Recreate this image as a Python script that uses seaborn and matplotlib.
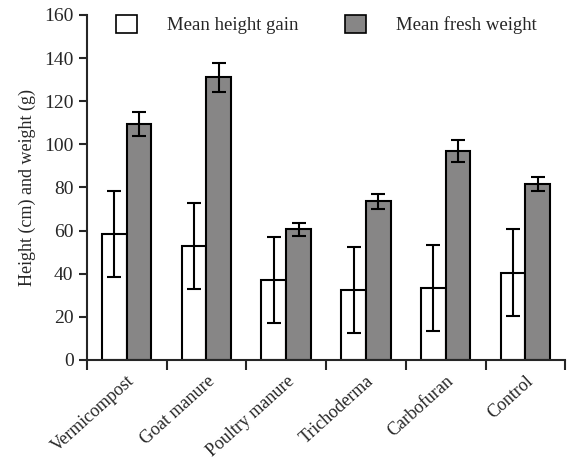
import numpy as np
import pandas as pd
import seaborn as sns
import matplotlib.pyplot as plt
from matplotlib.patches import Patch

# valores
tratamentos = ['Vermicompost', 'Goat manure', 'Poultry manure', 'Trichoderma', 'Carbofuran', 'Control']
altura = [58.5, 53, 37, 32.5, 33.5, 40.5]
altura_err = [20, 20, 20, 20, 20, 20]
peso = [109.5, 131, 60.5, 73.5, 97, 81.5]
peso_err = [5.5, 6.5, 3, 3.5, 5, 3.3]
series = ['Mean height gain', 'Mean fresh weight']

df = pd.DataFrame({
    'tratamento': tratamentos * 2,
    'serie': [series[0]] * 6 + [series[1]] * 6,
    'valor': altura + peso,
})

sns.set_style('ticks')
plt.rcParams['font.family'] = ['Liberation Serif', 'DejaVu Serif']

fig = plt.figure(figsize=(5.67, 4.68), dpi=100)
ax = fig.add_axes([0.153, 0.231, 0.844, 0.737])

cores = {series[0]: 'white', series[1]: '#878686'}
sns.barplot(data=df, x='tratamento', y='valor', hue='serie', palette=cores,
            width=0.62, edgecolor='black', linewidth=1.5, errorbar=None,
            legend=False, ax=ax)

# barras de erro no centro de cada barra
erros = altura_err + peso_err
barras = [p for p in ax.patches if p.get_height() > 0]
for p, e in zip(barras, erros):
    xc = p.get_x() + p.get_width() / 2
    ax.errorbar(xc, p.get_height(), yerr=e, fmt='none', ecolor='black',
                elinewidth=1.5, capsize=5, capthick=1.5)

ax.set_xlim(-0.5, 5.5)
ax.set_ylim(0, 160)
ax.set_yticks(np.arange(0, 161, 20))
ax.set_xticks(range(6))
ax.set_xticklabels(tratamentos, rotation=42, ha='right', rotation_mode='anchor', fontsize=13)
ax.tick_params(axis='x', length=0, pad=9)
ax.set_xticks(np.arange(-0.5, 6, 1), minor=True)
ax.tick_params(axis='x', which='minor', length=7, width=1.5, direction='out')
ax.tick_params(axis='y', labelsize=14, length=6, width=1.5)
ax.set_xlabel('')
ax.set_ylabel('Height (cm) and weight (g)', fontsize=13, labelpad=6)

for s in ['top', 'right']:
    ax.spines[s].set_visible(False)
for s in ['left', 'bottom']:
    ax.spines[s].set_linewidth(1.5)

handles = [Patch(facecolor=cores[s], edgecolor='black', linewidth=1.2) for s in series]
fig.legend(handles, series, loc='upper center', bbox_to_anchor=(0.576, 1.005), ncol=2,
           frameon=False, fontsize=13.5, handlelength=1.1, handleheight=1.1,
           handletextpad=1.6, columnspacing=2.5)

fig.savefig('out.png', dpi=100)
